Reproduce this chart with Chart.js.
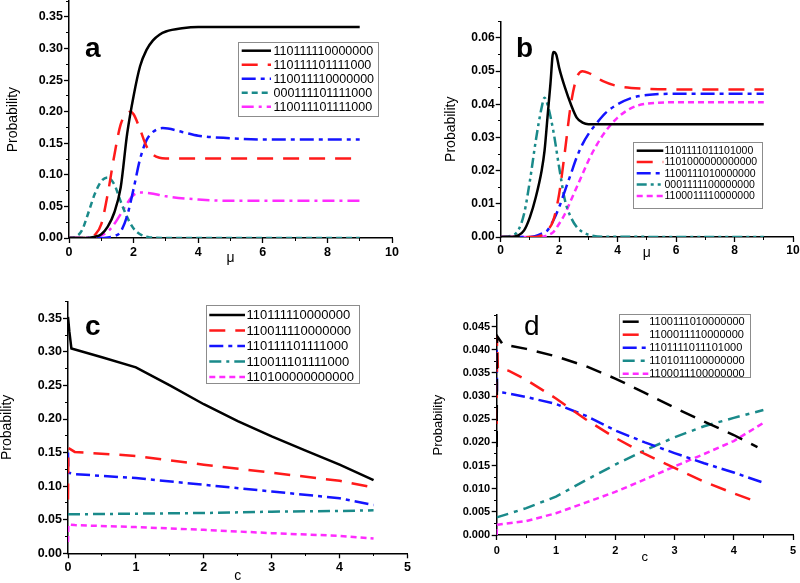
<!DOCTYPE html>
<html><head><meta charset="utf-8">
<script src="https://cdn.jsdelivr.net/npm/chart.js@4.4.1/dist/chart.umd.min.js"></script>
<style>
html,body{margin:0;padding:0;background:#fff;}
#wrap{position:relative;width:800px;height:583px;overflow:hidden;background:#fff;}
canvas{position:absolute;left:0;top:0;}
</style></head><body>
<div id="wrap">
<canvas id="ca" width="800" height="583"></canvas>
<canvas id="cb" width="800" height="583"></canvas>
<canvas id="cc" width="800" height="583"></canvas>
<canvas id="cd" width="800" height="583"></canvas>
</div>
<script>
// ---------- Panel a (x = mu) ----------
const aLabels = ['110111110000000','110111101111000','110011110000000','000111101111000','110011101111000'];
const aBlackX = [0,0.5,0.8,1.0,1.2,1.4,1.6,1.8,2.0,2.2,2.4,2.6,2.8,3.0,3.5,4.0,5.0,9.0];
const aBlackY = [0,0,0.002,0.006,0.018,0.04,0.08,0.165,0.225,0.272,0.298,0.313,0.322,0.327,0.332,0.334,0.334,0.334];
const aRedX = [0,0.6,0.8,1.0,1.2,1.4,1.6,1.8,1.9,2.0,2.2,2.4,2.6,2.8,3.0,9.0];
const aRedY = [0,0,0.005,0.022,0.07,0.13,0.18,0.197,0.2,0.196,0.172,0.145,0.132,0.127,0.126,0.126];
const aBlueX = [0,1.0,1.2,1.4,1.6,1.8,2.0,2.2,2.4,2.6,2.9,3.5,4.0,5.0,6.0,9.0];
const aBlueY = [0,0,0.001,0.003,0.01,0.035,0.078,0.125,0.155,0.168,0.174,0.168,0.162,0.158,0.156,0.156];
const aTealX = [0,0.2,0.4,0.6,0.8,1.0,1.2,1.4,1.6,1.8,2.0,2.2,2.5,3.0,9.0];
const aTealY = [0,0.002,0.012,0.04,0.07,0.09,0.096,0.085,0.058,0.033,0.015,0.006,0.001,0,0];
const aMagX = [0,0.8,1.0,1.2,1.4,1.6,1.8,2.0,2.2,2.5,3.0,4.0,5.0,9.0];
const aMagY = [0,0.001,0.004,0.01,0.022,0.038,0.055,0.068,0.072,0.071,0.066,0.061,0.059,0.059];
const aXTicks = [0,2,4,6,8,10];
const aYTicks = [0,0.05,0.10,0.15,0.20,0.25,0.30,0.35];

// ---------- Panel b (x = mu) ----------
const bLabels = ['1101111011101000','1101000000000000','1100111010000000','0001111100000000','1100011110000000'];
const bBlackX = [0,0.4,0.6,0.8,1.0,1.2,1.4,1.5,1.6,1.7,1.8,1.9,2.0,2.2,2.4,2.6,2.8,3.0,9.0];
const bBlackY = [0,0,0.0005,0.002,0.006,0.012,0.02,0.026,0.036,0.046,0.0558,0.055,0.051,0.045,0.04,0.036,0.0345,0.034,0.034];
const bRedX = [0,1.2,1.4,1.6,1.8,2.0,2.2,2.4,2.6,2.8,3.0,3.5,4.0,5.0,6.0,9.0];
const bRedY = [0,0,0.0005,0.002,0.005,0.013,0.026,0.04,0.048,0.05,0.0495,0.047,0.0455,0.0447,0.0445,0.0445];
const bBlueX = [0,1.0,1.4,1.6,1.8,2.0,2.2,2.4,2.6,2.8,3.0,3.3,3.6,4.0,4.5,5.0,6.0,9.0];
const bBlueY = [0,0,0.001,0.002,0.005,0.009,0.014,0.019,0.024,0.028,0.031,0.0345,0.0375,0.04,0.042,0.0428,0.0432,0.0432];
const bTealX = [0,0.4,0.6,0.8,1.0,1.2,1.4,1.5,1.6,1.8,2.0,2.2,2.4,2.6,2.8,3.0,3.5,9.0];
const bTealY = [0,0.0005,0.002,0.007,0.017,0.029,0.039,0.042,0.04,0.032,0.021,0.011,0.006,0.003,0.0015,0.0007,0.0001,0];
const bMagX = [0,1.4,1.6,1.8,2.0,2.2,2.4,2.6,2.8,3.0,3.3,3.6,4.0,4.5,5.0,6.0,9.0];
const bMagY = [0,0,0.0005,0.0015,0.004,0.007,0.011,0.015,0.019,0.023,0.028,0.032,0.036,0.039,0.0402,0.0406,0.0406];
const bXTicks = [0,2,4,6,8,10];
const bYTicks = [0,0.01,0.02,0.03,0.04,0.05,0.06];

// ---------- Panel c (x = c) ----------
const cLabels = ['110111110000000','110011110000000','110111101111000','110011101111000','110100000000000'];
const cBlackX = [0,0.02,0.05,0.5,1,1.5,2,2.5,3,3.5,4,4.5];
const cBlackY = [0.352,0.33,0.305,0.292,0.277,0.25,0.222,0.197,0.174,0.153,0.132,0.109];
const cRedX = [0,0.005,0.1,1,2,3,4,4.5];
const cRedY = [0.08,0.157,0.151,0.145,0.132,0.12,0.108,0.098];
const cBlueX = [0,0.005,0.1,1,2,3,4,4.5];
const cBlueY = [0.15,0.12,0.118,0.112,0.102,0.092,0.082,0.072];
const cTealX = [0,1,2,3,4,4.5];
const cTealY = [0.058,0.059,0.06,0.062,0.063,0.064];
const cMagX = [0,0.005,0.1,1,2,3,4,4.5];
const cMagY = [0.017,0.043,0.042,0.039,0.035,0.030,0.026,0.022];
const cXTicks = [0,1,2,3,4,5];
const cYTicks = [0,0.05,0.10,0.15,0.20,0.25,0.30,0.35];

// ---------- Panel d (x = c) ----------
const dLabels = ['1100111010000000','1100011110000000','1101111011101000','1101011100000000','1100011100000000'];
const dBlackX = [0,0.005,0.1,0.5,1,1.5,2,2.5,3,3.5,4,4.4];
const dBlackY = [0.019,0.043,0.0412,0.0402,0.0386,0.0365,0.0338,0.0307,0.0275,0.0245,0.0216,0.019];
const dRedX = [0,0.005,0.02,0.2,0.5,1,1.5,2,2.5,3,3.5,4,4.4];
const dRedY = [0.024,0.043,0.036,0.0355,0.0335,0.0295,0.025,0.021,0.0175,0.0145,0.0115,0.009,0.0071];
const dBlueX = [0,0.005,0.1,0.5,1,1.5,2,2.5,3,3.5,4,4.5];
const dBlueY = [0.040,0.031,0.0308,0.0298,0.0283,0.0258,0.0226,0.0200,0.0177,0.0155,0.0135,0.0113];
const dTealX = [0,0.5,1,1.5,2,2.5,3,3.5,4,4.5];
const dTealY = [0.0038,0.0058,0.0083,0.0118,0.0152,0.0183,0.0211,0.0235,0.0253,0.027];
const dMagX = [0,0.005,0.5,1,1.5,2,2.5,3,3.5,4,4.5];
const dMagY = [0,0.0022,0.003,0.0047,0.007,0.0093,0.012,0.0148,0.0175,0.0203,0.0242];
const dXTicks = [0,1,2,3,4,5];
const dYTicks = [0,0.005,0.010,0.015,0.020,0.025,0.030,0.035,0.040,0.045];

// ---------- styles ----------
const BLACK='#000000', RED='#ff1a1a', BLUE='#1414ff', TEAL='#1a8a8a', MAG='#ff2cff';
const SOLID=[], DASH=[16,10], DASHDOT=[14,5,4,5], SHORT=[6,4], DASHDOTDOT=[10,4,3,4,3,4], DDOT2=[12,5,3,5];
const W=800, H=583;

function pts(xs, ys){ return xs.map((x,i)=>({x:x, y:ys[i]})); }

const boxLegend = {
  id:'boxLegend',
  afterDatasetsDraw(chart, args, o){
    const ctx = chart.ctx;
    ctx.save();
    ctx.fillStyle = '#ffffff';
    ctx.fillRect(o.x, o.y, o.w, o.h);
    ctx.strokeStyle = '#8c8c8c'; ctx.lineWidth = 1;
    ctx.strokeRect(Math.round(o.x)+0.5, Math.round(o.y)+0.5, Math.round(o.w), Math.round(o.h));
    ctx.font = o.font; ctx.textBaseline = 'middle'; ctx.textAlign='left';
    chart.data.datasets.forEach((ds,i)=>{
      const cy = o.row0 + i*o.rowH;
      ctx.save();
      ctx.strokeStyle = ds.borderColor; ctx.lineWidth = ds.borderWidth;
      ctx.setLineDash(ds.borderDash || []);
      ctx.beginPath(); ctx.moveTo(o.sx0, cy); ctx.lineTo(o.sx1, cy); ctx.stroke();
      ctx.restore();
      ctx.fillStyle = '#000';
      ctx.fillText(ds.label, o.tx, cy+0.5);
    });
    ctx.restore();
  }
};
const panelText = {
  id:'panelText',
  afterDraw(chart, args, o){
    const ctx = chart.ctx;
    ctx.save();
    ctx.font = o.font; ctx.fillStyle='#000'; ctx.textBaseline='alphabetic'; ctx.textAlign='left';
    ctx.fillText(o.text, o.x, o.y);
    ctx.restore();
  }
};

function makePanel(id, p){
  const YW = p.area.l - p.padL;
  const XH = p.xh;
  const minorX = [], minorY = [];
  for (let v=p.xmin; v<=p.xmax+1e-9; v+=p.xminor) minorX.push(+v.toFixed(6));
  for (let v=p.ymin; v<=p.ymax+1e-12; v+=p.yminor) minorY.push(+v.toFixed(8));
  const tickFont = {family:'"Liberation Sans", Arial, sans-serif', weight:'bold', size:p.tickSize};
  const titleFont = {family:'"Liberation Sans", Arial, sans-serif', size:p.titleSize, lineHeight:1};
  return new Chart(document.getElementById(id), {
    type:'line',
    data:{datasets: p.series.map(s=>({
      label:s.label, data:pts(s.xs, s.ys), borderColor:s.color, backgroundColor:s.color,
      borderDash:s.dash, borderWidth:2.5, pointRadius:0, fill:false,
      tension: p.smooth ? 0.4 : 0, cubicInterpolationMode: p.smooth ? 'monotone' : 'default',
      xAxisID:'x', yAxisID:'y', borderCapStyle:'butt'
    }))},
    options:{
      responsive:false, animation:false, events:[],
      layout:{padding:{left:p.padL, top:p.area.t, right:W-p.area.r, bottom:H-p.area.b-XH}},
      plugins:{legend:{display:false}, tooltip:{enabled:false},
        boxLegend:p.legend, panelText:p.letter},
      scales:{
        x:{type:'linear', axis:'x', position:'bottom', min:p.xmin, max:p.xmax, bounds:'data',
          afterBuildTicks:s=>{ s.ticks = p.xTicks.map(v=>({value:v})); },
          afterFit:s=>{ s.height = XH; s.paddingLeft=0; s.paddingRight=0; },
          ticks:{autoSkip:false, maxRotation:0, color:'#000', font:tickFont, padding:p.xTickPad,
            callback:(v)=>String(v)},
          grid:{display:true, drawOnChartArea:false, drawTicks:true, tickLength:5, tickWidth:1.3, tickColor:'#000'},
          border:{display:true, color:'#000', width:1.5},
          title:{display:true, text:p.xTitle, color:'#000', font:titleFont, padding:0}
        },
        y:{type:'linear', axis:'y', position:'left', min:p.ymin, max:p.ymax, bounds:'data',
          afterBuildTicks:s=>{ s.ticks = p.yTicks.map(v=>({value:v})); },
          afterFit:s=>{ s.width = YW; s.paddingTop=0; s.paddingBottom=0; },
          ticks:{autoSkip:false, color:'#000', font:tickFont, padding:p.yTickPad,
            callback:(v)=>Number(v).toFixed(p.yDec)},
          grid:{display:true, drawOnChartArea:false, drawTicks:true, tickLength:5, tickWidth:1.3, tickColor:'#000'},
          border:{display:true, color:'#000', width:1.5},
          title:{display:true, text:'Probability', color:'#000', font:titleFont, padding:0}
        },
        xm:{type:'linear', axis:'x', position:{y:p.ymin}, min:p.xmin, max:p.xmax, bounds:'data',
          afterBuildTicks:s=>{ s.ticks = minorX.map(v=>({value:v})); },
          afterFit:s=>{ s.height=0; s.paddingLeft=0; s.paddingRight=0; s.paddingTop=0; s.paddingBottom=0; },
          ticks:{display:false},
          grid:{display:true, drawOnChartArea:false, drawTicks:true, tickLength:3, tickWidth:1, tickColor:'#000'},
          border:{display:false}
        },
        ym:{type:'linear', axis:'y', position:{x:p.xmin}, min:p.ymin, max:p.ymax, bounds:'data',
          afterBuildTicks:s=>{ s.ticks = minorY.map(v=>({value:v})); },
          afterFit:s=>{ s.width=0; s.paddingLeft=0; s.paddingRight=0; s.paddingTop=0; s.paddingBottom=0; },
          ticks:{display:false},
          grid:{display:true, drawOnChartArea:false, drawTicks:true, tickLength:3, tickWidth:1, tickColor:'#000'},
          border:{display:false}
        }
      }
    },
    plugins:[boxLegend, panelText]
  });
}

makePanel('ca', {
  area:{l:69, r:392, t:1.2, b:238}, padL:6.3, xh:27.5,
  xmin:0, xmax:10, xminor:1, ymin:0, ymax:0.375, yminor:0.025,
  xTicks:aXTicks, yTicks:aYTicks, yDec:2, tickSize:12.5, titleSize:14, xTickPad:2, yTickPad:1,
  xTitle:'\u03bc', smooth:true,
  series:[
    {label:aLabels[0], xs:aBlackX, ys:aBlackY, color:BLACK, dash:SOLID},
    {label:aLabels[1], xs:aRedX, ys:aRedY, color:RED, dash:DASH},
    {label:aLabels[2], xs:aBlueX, ys:aBlueY, color:BLUE, dash:DASHDOT},
    {label:aLabels[3], xs:aTealX, ys:aTealY, color:TEAL, dash:SHORT},
    {label:aLabels[4], xs:aMagX, ys:aMagY, color:MAG, dash:DDOT2}
  ],
  legend:{x:237.7, y:42.3, w:140, h:73.7, row0:50.7, rowH:14, sx0:241.7, sx1:271, tx:273.5,
    font:'12.5px "Liberation Sans", Arial, sans-serif'},
  letter:{text:'a', x:85, y:57, font:'bold 28px "Liberation Sans", Arial, sans-serif'}
});

makePanel('cb', {
  area:{l:500.7, r:793, t:21.4, b:237}, padL:444, xh:23.4,
  xmin:0, xmax:10, xminor:1, ymin:0, ymax:0.065, yminor:0.005,
  xTicks:bXTicks, yTicks:bYTicks, yDec:2, tickSize:12, titleSize:14, xTickPad:1, yTickPad:1,
  xTitle:'\u03bc', smooth:true,
  series:[
    {label:bLabels[0], xs:bBlackX, ys:bBlackY, color:BLACK, dash:SOLID},
    {label:bLabels[1], xs:bRedX, ys:bRedY, color:RED, dash:DASH},
    {label:bLabels[2], xs:bBlueX, ys:bBlueY, color:BLUE, dash:DASHDOT},
    {label:bLabels[3], xs:bTealX, ys:bTealY, color:TEAL, dash:DASHDOTDOT},
    {label:bLabels[4], xs:bMagX, ys:bMagY, color:MAG, dash:SHORT}
  ],
  legend:{x:633, y:141.7, w:128.7, h:66.3, row0:150.7, rowH:11.3, sx0:636.7, sx1:663.3, tx:664.5,
    font:'10.5px "Liberation Sans", Arial, sans-serif'},
  letter:{text:'b', x:516, y:57, font:'bold 28px "Liberation Sans", Arial, sans-serif'}
});

makePanel('cc', {
  area:{l:68, r:407.5, t:301.5, b:553.3}, padL:0.5, xh:29.7,
  xmin:0, xmax:5, xminor:0.5, ymin:0, ymax:0.375, yminor:0.025,
  xTicks:cXTicks, yTicks:cYTicks, yDec:2, tickSize:12.5, titleSize:14, xTickPad:2, yTickPad:1,
  xTitle:'c', smooth:false,
  series:[
    {label:cLabels[0], xs:cBlackX, ys:cBlackY, color:BLACK, dash:SOLID},
    {label:cLabels[1], xs:cRedX, ys:cRedY, color:RED, dash:DASH},
    {label:cLabels[2], xs:cBlueX, ys:cBlueY, color:BLUE, dash:DASHDOT},
    {label:cLabels[3], xs:cTealX, ys:cTealY, color:TEAL, dash:DDOT2},
    {label:cLabels[4], xs:cMagX, ys:cMagY, color:MAG, dash:SHORT}
  ],
  legend:{x:205.7, y:305, w:152.6, h:77.7, row0:315, rowH:15.5, sx0:209.3, sx1:245, tx:246.5,
    font:'13px "Liberation Sans", Arial, sans-serif'},
  letter:{text:'c', x:85, y:335, font:'bold 28px "Liberation Sans", Arial, sans-serif'}
});

makePanel('cd', {
  area:{l:496.7, r:793, t:315.1, b:535}, padL:432, xh:29,
  xmin:0, xmax:5, xminor:0.5, ymin:0, ymax:0.0475, yminor:0.0025,
  xTicks:dXTicks, yTicks:dYTicks, yDec:3, tickSize:11, titleSize:13, xTickPad:4, yTickPad:1.5,
  xTitle:'c', smooth:false,
  series:[
    {label:dLabels[0], xs:dBlackX, ys:dBlackY, color:BLACK, dash:DASH},
    {label:dLabels[1], xs:dRedX, ys:dRedY, color:RED, dash:DASH},
    {label:dLabels[2], xs:dBlueX, ys:dBlueY, color:BLUE, dash:DASHDOT},
    {label:dLabels[3], xs:dTealX, ys:dTealY, color:TEAL, dash:[12,6,4,6]},
    {label:dLabels[4], xs:dMagX, ys:dMagY, color:MAG, dash:SHORT}
  ],
  legend:{x:619.3, y:314, w:130.7, h:63, row0:321.7, rowH:13, sx0:622.7, sx1:648.3, tx:649.3,
    font:'11px "Liberation Sans", Arial, sans-serif'},
  letter:{text:'d', x:524, y:335, font:'28px "Liberation Sans", Arial, sans-serif'}
});
</script>
</body></html>
